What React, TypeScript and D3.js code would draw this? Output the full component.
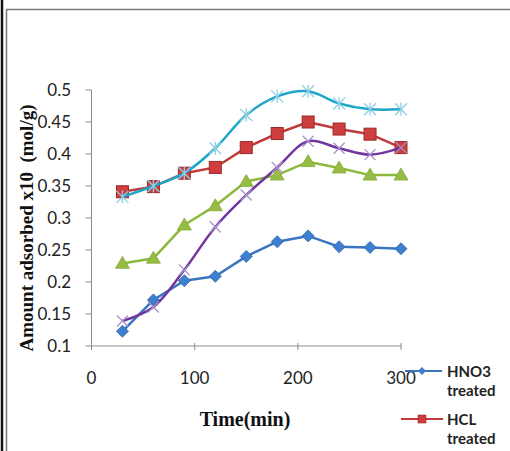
import * as d3 from "d3";

const times = [30, 60, 90, 120, 150, 180, 210, 240, 270, 300];
const hno3 = [0.123, 0.172, 0.202, 0.209, 0.24, 0.263, 0.272, 0.255, 0.254, 0.252];
const hcl = [0.341, 0.349, 0.37, 0.379, 0.41, 0.432, 0.45, 0.439, 0.431, 0.41];
const green = [0.229, 0.237, 0.289, 0.319, 0.357, 0.367, 0.388, 0.378, 0.367, 0.367];
const purple = [0.139, 0.161, 0.219, 0.286, 0.336, 0.379, 0.42, 0.409, 0.399, 0.41];
const cyan = [0.333, 0.35, 0.37, 0.409, 0.461, 0.49, 0.498, 0.479, 0.47, 0.47];
const yTicks = [0.1, 0.15, 0.2, 0.25, 0.3, 0.35, 0.4, 0.45, 0.5];
const xTicks = [0, 100, 200, 300];

const x = d3.scaleLinear().domain([0, 300]).range([91.5, 401]);
const y = d3.scaleLinear().domain([0.1, 0.5]).range([346, 90]);

type Pt = [number, number];

function Marker({ kind, cx, cy }: { kind: string; cx: number; cy: number }) {
  if (kind === "diamond") {
    const r = 6;
    return <path d={`M${cx},${cy - r}L${cx + r},${cy}L${cx},${cy + r}L${cx - r},${cy}Z`} fill="#3f7fcf" stroke="#2d64a8" strokeWidth={0.8} />;
  }
  if (kind === "square") {
    const r = 6;
    return <rect x={cx - r} y={cy - r} width={2 * r} height={2 * r} fill="#cf3e3e" stroke="#9b2a2a" strokeWidth={1} />;
  }
  if (kind === "triangle") {
    const r = 7;
    return <path d={`M${cx},${cy - r}L${cx + r},${cy + r * 0.7}L${cx - r},${cy + r * 0.7}Z`} fill="#96bc43" stroke="#86ab38" strokeWidth={0.8} />;
  }
  if (kind === "x") {
    const r = 5.5;
    return <path d={`M${cx - r},${cy - r}L${cx + r},${cy + r}M${cx - r},${cy + r}L${cx + r},${cy - r}`} stroke="#a892cc" strokeWidth={1.3} fill="none" />;
  }
  const r = 6;
  return (
    <path
      d={`M${cx - r},${cy - r}L${cx + r},${cy + r}M${cx - r},${cy + r}L${cx + r},${cy - r}M${cx},${cy - r * 1.1}L${cx},${cy + r * 1.1}`}
      stroke="#8fd0e4"
      strokeWidth={1.3}
      fill="none"
    />
  );
}

const series = [
  { name: "HNO3", values: hno3, color: "#3a76c0", marker: "diamond", smooth: false },
  { name: "HCL", values: hcl, color: "#c0393b", marker: "square", smooth: false },
  { name: "green", values: green, color: "#8cb83c", marker: "triangle", smooth: false },
  { name: "purple", values: purple, color: "#7135a0", marker: "x", smooth: true },
  { name: "cyan", values: cyan, color: "#1fa6c9", marker: "star", smooth: true },
];

export default function App() {
  const sans = "Lato, 'Open Sans', sans-serif";
  const serif = "'Liberation Serif', 'DejaVu Serif', serif";
  return (
    <svg width={510} height={451} style={{ position: "absolute", left: 0, top: 0, background: "#fff" }}>
      <rect x={0} y={0} width={510} height={451} fill="#fff" />
      {/* frame */}
      <line x1={2} y1={0} x2={2} y2={451} stroke="#111" strokeWidth={2.5} />
      <line x1={6.5} y1={9} x2={6.5} y2={451} stroke="#777" strokeWidth={1.5} />
      <line x1={6} y1={9.5} x2={510} y2={9.5} stroke="#777" strokeWidth={1.5} />

      {/* axes */}
      <line x1={x(0)} y1={y(0.1)} x2={x(0)} y2={y(0.5)} stroke="#8c8c8c" strokeWidth={1} />
      <line x1={x(0)} y1={y(0.1)} x2={x(300)} y2={y(0.1)} stroke="#8c8c8c" strokeWidth={1} />
      {yTicks.map((t) => (
        <g key={t}>
          <line x1={x(0) - 6} x2={x(0)} y1={y(t)} y2={y(t)} stroke="#8c8c8c" />
          <text x={71} y={y(t)} dy="0.35em" textAnchor="end" fontFamily={sans} fontSize={17} fill="#222">
            {String(t)}
          </text>
        </g>
      ))}
      {xTicks.map((t) => (
        <g key={t}>
          <line x1={x(t)} x2={x(t)} y1={y(0.1) - 3} y2={y(0.1) + 4} stroke="#8c8c8c" />
          <text x={x(t)} y={384} textAnchor="middle" fontFamily={sans} fontSize={17} fill="#222">
            {t}
          </text>
        </g>
      ))}

      {/* series */}
      {series.map((s) => {
        const pts: Pt[] = times.map((t, i) => [x(t), y(s.values[i])]);
        const line = d3.line().curve(s.smooth ? d3.curveCatmullRom.alpha(0.5) : d3.curveLinear);
        return (
          <g key={s.name}>
            <path d={line(pts) || ""} fill="none" stroke={s.color} strokeWidth={2.5} />
            {pts.map((p, i) => (
              <Marker key={i} kind={s.marker} cx={p[0]} cy={p[1]} />
            ))}
          </g>
        );
      })}

      {/* titles */}
      <text
        transform={`translate(33,228) rotate(-90)`}
        textAnchor="middle"
        fontFamily={serif}
        fontWeight="bold"
        fontSize={19}
        fill="#111"
        style={{ whiteSpace: "pre" }}
      >
        {"Amount adsorbed x10  (mol/g)"}
      </text>
      <text x={245} y={426} textAnchor="middle" fontFamily={serif} fontWeight="bold" fontSize={20} fill="#111">
        Time(min)
      </text>

      {/* legend */}
      <line x1={405} x2={442} y1={371} y2={371} stroke="#3a76c0" strokeWidth={2} />
      <path d="M422,367L426,371L422,375L418,371Z" fill="#3f7fcf" />
      <text x={447} y={377} fontFamily={sans} fontWeight="bold" fontSize={15} fill="#222">HNO3</text>
      <text x={447} y={396} fontFamily={sans} fontWeight="bold" fontSize={15} fill="#222">treated</text>
      <line x1={401} x2={443} y1={419} y2={419} stroke="#c0393b" strokeWidth={2} />
      <rect x={418} y={415} width={8} height={8} fill="#cf3e3e" stroke="#9b2a2a" strokeWidth={0.6} />
      <text x={447} y={425} fontFamily={sans} fontWeight="bold" fontSize={15} fill="#222">HCL</text>
      <text x={447} y={444} fontFamily={sans} fontWeight="bold" fontSize={15} fill="#222">treated</text>
    </svg>
  );
}
